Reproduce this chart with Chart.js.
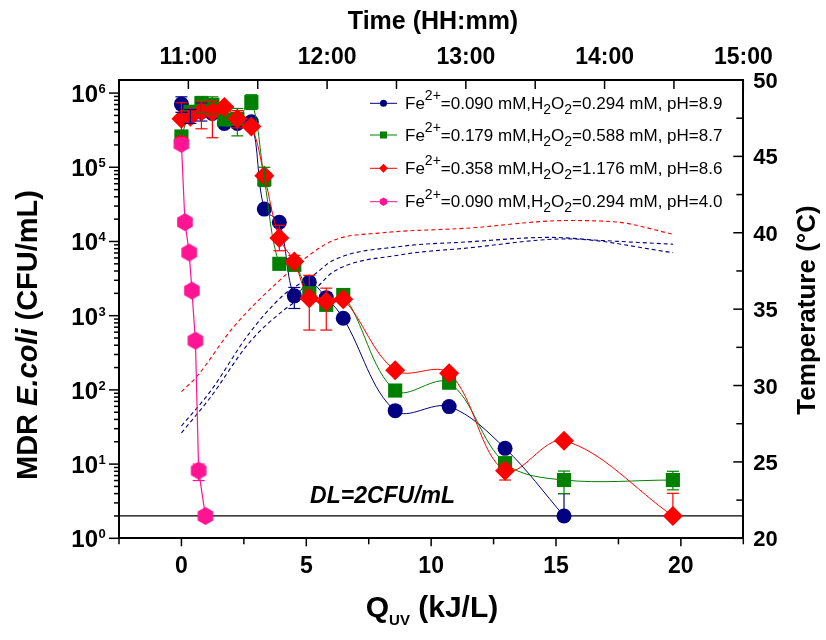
<!DOCTYPE html>
<html><head><meta charset="utf-8">
<script src="https://cdn.jsdelivr.net/npm/chart.js@4.4.0/dist/chart.umd.min.js"></script>
<style>html,body{margin:0;padding:0;background:#fff;}#wrap{position:relative;width:826px;height:640px;}</style>
</head><body><div id="wrap"><canvas id="c" width="826" height="640"></canvas></div>
<script>
// ---------- data ----------
const quv = [0, 0.36, 0.8, 1.24, 1.72, 2.24, 2.8, 3.32, 3.92, 4.52, 5.12, 5.8, 6.48, 8.56, 10.72, 12.96, 15.32, 19.68];
const ecoliPH89 = [7.1e5, 5.0e5, 5.6e5, 5.3e5, 3.9e5, 3.9e5, 4.1e5, 2.73e4, 1.82e4, 1.85e3, 2.83e3, 1.75e3, 925, 52.5, 59.5, 16.3, 2.0, null];
const ecoliPH87 = [2.6e5, 5.6e5, 7.3e5, 6.95e5, 4.4e5, 4.5e5, 7.55e5, 6.9e4, 5.0e3, 4.84e3, 2.01e3, 1.4e3, 1.9e3, 98, 125, 10.3, 6.1, 6.1];
const ecoliPH86 = [4.5e5, 4.8e5, 5.65e5, 5.54e5, 6.47e5, 4.5e5, 3.54e5, 7.7e4, 1.11e4, 5.36e3, 1.72e3, 1.55e3, 1.67e3, 184, 168, 8.15, 20.7, 2.0];
const quvPH40 = [0, 0.14, 0.31, 0.42, 0.56, 0.69, 0.96];
const ecoliPH40 = [2.07e5, 1.82e4, 7.1e3, 2.18e3, 461, 8.15, 2.0];

// error bars (low / high bounds)
const errLoPH89 = [5.5e5, 3.9e5, 4.2e5, null, null, null, null, null, null, 1.25e3, null, null, null, null, null, null, null, null];
const errHiPH89 = [8.9e5, 6.0e5, 7.4e5, null, null, null, null, null, null, 2.4e3, null, null, null, null, null, null, 4.0, null];
const errLoPH87 = [null, null, 5.5e5, 5.2e5, null, 2.65e5, 6.0e5, 5.5e4, null, null, null, null, null, null, null, null, 4.0, 4.5];
const errHiPH87 = [null, null, 9.0e5, 8.9e5, null, 6.2e5, 9.5e5, 1.0e5, null, null, null, null, null, null, null, null, 8.06, 8.0];
const errLoPH86 = [2.6e5, null, 3.3e5, 2.5e5, null, 3.4e5, null, null, 7.5e3, null, 640, 640, null, null, null, 6.1, null, null];
const errHiPH86 = [7.4e5, null, 7.6e5, 7.8e5, null, 5.8e5, null, null, 1.65e4, 6.5e3, 3.5e3, 2.35e3, null, null, null, 10, null, 4.04];
const errLoPH40 = [null, null, null, null, null, 6.0, null];
const errHiPH40 = [null, null, null, null, null, 10, null];

// temperature profiles (right axis)
const tempRedX = [0, 0.62, 2.07, 4.07, 4.85, 6.08, 8.07, 11.44, 15.45, 17.44, 19.69];
const tempRed  = [29.6, 30.6, 33.8, 37.1, 38.2, 39.5, 40.0, 40.3, 40.8, 40.7, 39.9];
const tempNavyAX = [0, 1.15, 2.71, 4.07, 5.27, 6.08, 8.75, 11.44, 14.77, 16.78, 19.69];
const tempNavyA  = [27.35, 29.6, 33.4, 35.9, 37.2, 38.2, 39.1, 39.4, 39.7, 39.5, 39.25];
const tempNavyBX = [0, 1.15, 2.71, 4.07, 5.43, 6.08, 8.75, 11.44, 15.45, 19.69];
const tempNavyB  = [26.9, 29.2, 32.8, 34.9, 36.45, 37.45, 38.55, 39.0, 39.6, 38.7];

const detectionLimit = 2;

// legend parameters
const feConc = ['0.090', '0.179', '0.358', '0.090'];
const h2o2Conc = ['0.294', '0.588', '1.176', '0.294'];
const pHvals = ['8.9', '8.7', '8.6', '4.0'];

// tick labels
const bottomTickLabels = [0, 5, 10, 15, 20];
const bottomTickMarks = [-2.5, 0, 2.5, 5, 7.5, 10, 12.5, 15, 17.5, 20, 22.5];
const timeTickLabels = ['11:00', '12:00', '13:00', '14:00', '15:00'];
const timeTickMinutes = [660, 720, 780, 840, 900];
const timeMinorMinutes = [630, 690, 750, 810, 870];
const logExponents = [0, 1, 2, 3, 4, 5, 6];
const tempTickLabels = [20, 25, 30, 35, 40, 45, 50];
const tempMinorTicks = [22.5, 27.5, 32.5, 37.5, 42.5, 47.5];

// ---------- helpers ----------
const FONT = '"Liberation Sans", Arial, sans-serif';
const NAVY = '#000080', GREEN = '#008000', RED = '#ff0000', PINK = '#ff1493';
function pts(xs, ys) { return xs.map((x, i) => ({x: x, y: ys[i]})).filter(p => p.y !== null); }
function hexCanvas(r, color) {
  const s = Math.ceil(2 * r + 2);
  const c = document.createElement('canvas'); c.width = s; c.height = s;
  const g = c.getContext('2d'); g.fillStyle = color; g.beginPath();
  for (let i = 0; i < 6; i++) {
    const a = -Math.PI / 2 + i * Math.PI / 3;
    const px = s / 2 + r * Math.cos(a), py = s / 2 + r * Math.sin(a);
    if (i) g.lineTo(px, py); else g.moveTo(px, py);
  }
  g.closePath(); g.fill(); return c;
}
function runsWidth(ctx, runs) { let w = 0; runs.forEach(r => { ctx.font = r.font; w += ctx.measureText(r.t).width; }); return w; }
function drawRuns(ctx, runs, x, y) {
  let cx = x;
  runs.forEach(r => { ctx.font = r.font; ctx.fillText(r.t, cx, y + (r.dy || 0)); cx += ctx.measureText(r.t).width; });
}

const hexBig = hexCanvas(9, PINK);

const series = [
  {x: quv, y: ecoliPH89, lo: errLoPH89, hi: errHiPH89, color: NAVY},
  {x: quv, y: ecoliPH87, lo: errLoPH87, hi: errHiPH87, color: GREEN},
  {x: quv, y: ecoliPH86, lo: errLoPH86, hi: errHiPH86, color: RED},
  {x: quvPH40, y: ecoliPH40, lo: errLoPH40, hi: errHiPH40, color: PINK}
];

const datasets = [
  {data: pts(quvPH40, ecoliPH40), showLine: true, borderColor: PINK, borderWidth: 1.2, tension: 0,
   pointStyle: hexBig, pointRadius: 9, backgroundColor: PINK, order: 0, clip: false},
  {data: pts(quv, ecoliPH86), showLine: true, borderColor: RED, borderWidth: 1, tension: 0.35,
   pointStyle: 'rectRot', pointRadius: 10, backgroundColor: RED, pointBorderWidth: 0, order: 1, clip: false},
  {data: pts(quv, ecoliPH87), showLine: true, borderColor: GREEN, borderWidth: 1, tension: 0.35,
   pointStyle: 'rect', pointRadius: 10, backgroundColor: GREEN, pointBorderWidth: 0, order: 2, clip: false},
  {data: pts(quv, ecoliPH89), showLine: true, borderColor: NAVY, borderWidth: 1, tension: 0.35,
   pointStyle: 'circle', pointRadius: 7.5, backgroundColor: NAVY, pointBorderWidth: 0, order: 3, clip: false},
  {data: pts(tempRedX, tempRed), yAxisID: 'y2', showLine: true, borderColor: RED, borderWidth: 1.1, borderDash: [4, 3],
   tension: 0.4, cubicInterpolationMode: 'monotone', pointRadius: 0, order: 5},
  {data: pts(tempNavyAX, tempNavyA), yAxisID: 'y2', showLine: true, borderColor: NAVY, borderWidth: 1.1, borderDash: [4, 3],
   tension: 0.4, cubicInterpolationMode: 'monotone', pointRadius: 0, order: 5},
  {data: pts(tempNavyBX, tempNavyB), yAxisID: 'y2', showLine: true, borderColor: NAVY, borderWidth: 1.1, borderDash: [4, 3],
   tension: 0.4, cubicInterpolationMode: 'monotone', pointRadius: 0, order: 5},
  {data: [{x: -2.5, y: detectionLimit}, {x: 22.5, y: detectionLimit}], showLine: true, borderColor: '#000', borderWidth: 1.2,
   pointRadius: 0, order: 6}
];

const axisBase = {grid: {display: false, drawTicks: false}, ticks: {display: false}, border: {display: true, color: '#000', width: 2}};

const decorPlugin = {
  id: 'decor',
  afterDatasetsDraw(chart) {
    const ctx = chart.ctx, xs = chart.scales.x, ys = chart.scales.y;
    ctx.save(); ctx.lineWidth = 1.2;
    series.forEach(s => {
      ctx.strokeStyle = s.color;
      s.x.forEach((xv, i) => {
        const lo = s.lo[i], hi = s.hi[i];
        if (lo === null && hi === null) return;
        const px = xs.getPixelForValue(xv);
        const yl = ys.getPixelForValue(lo !== null ? lo : s.y[i]);
        const yh = ys.getPixelForValue(hi !== null ? hi : s.y[i]);
        ctx.beginPath(); ctx.moveTo(px, yl); ctx.lineTo(px, yh); ctx.stroke();
        [[lo, yl], [hi, yh]].forEach(([v, py]) => {
          if (v === null) return;
          ctx.beginPath(); ctx.moveTo(px - 6, py); ctx.lineTo(px + 6, py); ctx.stroke();
        });
      });
    });
    ctx.restore();
  },
  afterDraw(chart) {
    const ctx = chart.ctx, a = chart.chartArea;
    const {x, x2, y, y2} = chart.scales;
    ctx.save();
    ctx.strokeStyle = '#000'; ctx.fillStyle = '#000'; ctx.lineWidth = 1.5;
    const L = (x1, y1, xx, yy) => { ctx.beginPath(); ctx.moveTo(x1, y1); ctx.lineTo(xx, yy); ctx.stroke(); };
    bottomTickMarks.forEach(v => { const p = x.getPixelForValue(v); L(p, a.bottom, p, a.bottom + (v % 5 === 0 ? 8 : 6)); });
    timeTickMinutes.concat(timeMinorMinutes).forEach(v => { const p = x2.getPixelForValue(v); L(p, a.top, p, a.top + 9); });
    logExponents.forEach(e => {
      for (let m = 1; m <= 9; m++) {
        const v = m * Math.pow(10, e); if (v > y.max) break;
        const p = y.getPixelForValue(v); L(a.left, p, a.left - (m === 1 ? 10 : 5), p);
      }
    });
    tempTickLabels.forEach(v => { const p = y2.getPixelForValue(v); L(a.right, p, a.right - 10, p); });
    tempMinorTicks.forEach(v => { const p = y2.getPixelForValue(v); L(a.right, p, a.right - 7, p); });

    ctx.textBaseline = 'alphabetic';
    ctx.textAlign = 'center'; ctx.font = 'bold 23px ' + FONT;
    bottomTickLabels.forEach(v => ctx.fillText(String(v), x.getPixelForValue(v), a.bottom + 35));
    timeTickLabels.forEach((t, i) => ctx.fillText(t, x2.getPixelForValue(timeTickMinutes[i]), 64));
    ctx.textAlign = 'left'; ctx.font = 'bold 22px ' + FONT;
    tempTickLabels.forEach(v => ctx.fillText(String(v), a.right + 10, y2.getPixelForValue(v) + 8));
    logExponents.forEach(e => {
      const p = y.getPixelForValue(Math.pow(10, e));
      ctx.textAlign = 'right'; ctx.font = 'bold 24px ' + FONT; ctx.fillText('10', 98, p + 9);
      ctx.textAlign = 'left'; ctx.font = 'bold 13px ' + FONT; ctx.fillText(String(e), 98.5, p);
    });

    ctx.textAlign = 'left';
    const top = [{t: 'Time (HH:mm)', font: 'bold 25px ' + FONT}];
    drawRuns(ctx, top, 433 - runsWidth(ctx, top) / 2, 29);
    const bot = [{t: 'Q', font: 'bold 30px ' + FONT}, {t: 'UV', font: 'bold 15px ' + FONT, dy: 8}, {t: ' (kJ/L)', font: 'bold 30px ' + FONT}];
    drawRuns(ctx, bot, 432 - runsWidth(ctx, bot) / 2, 617);
    const lt = [{t: 'MDR ', font: 'bold 29px ' + FONT}, {t: 'E.coli', font: 'italic bold 29px ' + FONT}, {t: ' (CFU/mL)', font: 'bold 29px ' + FONT}];
    ctx.save(); ctx.translate(26, 335); ctx.rotate(-Math.PI / 2);
    drawRuns(ctx, lt, -runsWidth(ctx, lt) / 2, 10.5); ctx.restore();
    const rt = [{t: 'Temperature (°C)', font: 'bold 26px ' + FONT}];
    ctx.save(); ctx.translate(806, 310); ctx.rotate(-Math.PI / 2);
    drawRuns(ctx, rt, -runsWidth(ctx, rt) / 2, 9); ctx.restore();

    ctx.font = 'italic bold 23px ' + FONT;
    ctx.fillText('DL=' + detectionLimit + 'CFU/mL', x.getPixelForValue(5.15), y.getPixelForValue(detectionLimit) - 13);

    const rows = [103.3, 135, 168.3, 201.7];
    const mk = ['circle', 'rect', 'rectRot', 'hex'];
    series.forEach((s, i) => {
      const ry = rows[i];
      ctx.strokeStyle = s.color; ctx.fillStyle = s.color; ctx.lineWidth = 1;
      L(370, ry, 397, ry);
      ctx.beginPath();
      if (mk[i] === 'circle') { ctx.arc(383.5, ry, 3.5, 0, Math.PI * 2); }
      else if (mk[i] === 'rect') { ctx.rect(380, ry - 3.5, 7, 7); }
      else if (mk[i] === 'rectRot') { ctx.moveTo(383.5, ry - 4.5); ctx.lineTo(388, ry); ctx.lineTo(383.5, ry + 4.5); ctx.lineTo(379, ry); ctx.closePath(); }
      else { for (let k = 0; k < 6; k++) { const an = -Math.PI / 2 + k * Math.PI / 3; const px = 383.5 + 4.2 * Math.cos(an), py = ry + 4.2 * Math.sin(an); k ? ctx.lineTo(px, py) : ctx.moveTo(px, py); } ctx.closePath(); }
      ctx.fill();
      ctx.fillStyle = '#000';
      const f = '17px ' + FONT, fs = '14px ' + FONT;
      drawRuns(ctx, [
        {t: 'Fe', font: f}, {t: '2+', font: fs, dy: -8.5},
        {t: '=' + feConc[i] + ' mM,H', font: f}, {t: '2', font: fs, dy: 5},
        {t: 'O', font: f}, {t: '2', font: fs, dy: 5},
        {t: '=' + h2o2Conc[i] + ' mM, pH=' + pHvals[i], font: f}
      ], 405, ry + 5.5);
    });
    ctx.restore();
  }
};

new Chart(document.getElementById('c'), {
  type: 'scatter',
  data: {datasets: datasets},
  options: {
    responsive: false, animation: false,
    layout: {padding: {left: 119, right: 82.7, top: 80, bottom: 101.7}},
    plugins: {legend: {display: false}, tooltip: {enabled: false}},
    scales: {
      x: Object.assign({type: 'linear', position: 'bottom', min: -2.5, max: 22.5}, axisBase),
      x2: Object.assign({type: 'linear', position: 'top', min: 630, max: 900}, axisBase),
      y: Object.assign({type: 'logarithmic', position: 'left', min: 1, max: 1.5e6}, axisBase),
      y2: Object.assign({type: 'linear', position: 'right', min: 20, max: 50}, axisBase)
    }
  },
  plugins: [decorPlugin]
});
</script>
</body></html>
